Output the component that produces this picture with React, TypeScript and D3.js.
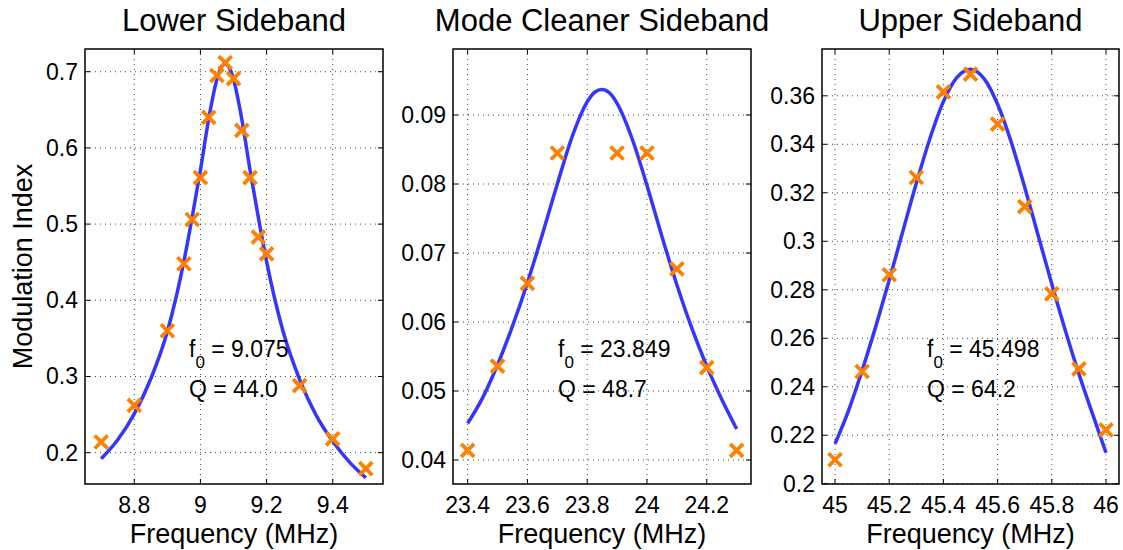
import React from 'react';
import * as d3 from 'd3';

// ---------- Data ----------
const lowerTitle = 'Lower Sideband';
const lowerFreq = [8.7, 8.8, 8.9, 8.95, 8.975, 9.0, 9.025, 9.05, 9.075, 9.1, 9.125, 9.15, 9.175, 9.2, 9.3, 9.4, 9.5];
const lowerMeas = [0.214, 0.262, 0.36, 0.448, 0.506, 0.561, 0.64, 0.695, 0.712, 0.691, 0.623, 0.561, 0.483, 0.461, 0.288, 0.218, 0.179];
const lowerFitFreq = [8.7, 8.75, 8.8, 8.85, 8.9, 8.95, 8.975, 9.0, 9.025, 9.05, 9.0625, 9.075, 9.0875, 9.1, 9.125, 9.15, 9.175, 9.2, 9.25, 9.3, 9.35, 9.4, 9.45, 9.5];
const lowerFitVal = [0.192, 0.217, 0.251, 0.297, 0.359, 0.451, 0.509, 0.571, 0.638, 0.69, 0.705, 0.71, 0.705, 0.69, 0.638, 0.571, 0.509, 0.451, 0.359, 0.296, 0.249, 0.215, 0.188, 0.167];
const lowerXTicks = [8.8, 9, 9.2, 9.4];
const lowerXTickLabels = ['8.8', '9', '9.2', '9.4'];
const lowerYTicks = [0.2, 0.3, 0.4, 0.5, 0.6, 0.7];
const lowerYTickLabels = ['0.2', '0.3', '0.4', '0.5', '0.6', '0.7'];
const lowerF0 = '9.075';
const lowerQ = '44.0';

const modeTitle = 'Mode Cleaner Sideband';
const modeFreq = [23.4, 23.5, 23.6, 23.7, 23.9, 24.0, 24.1, 24.2, 24.3];
const modeMeas = [0.0414, 0.0536, 0.0656, 0.0845, 0.0845, 0.0845, 0.0677, 0.0534, 0.0414];
const modeFitFreq = [23.4, 23.45, 23.5, 23.55, 23.6, 23.65, 23.7, 23.75, 23.8, 23.825, 23.85, 23.875, 23.9, 23.95, 24.0, 24.05, 24.1, 24.15, 24.2, 24.25, 24.3];
const modeFitVal = [0.0453, 0.049, 0.0538, 0.0594, 0.0657, 0.0727, 0.08, 0.0869, 0.0919, 0.0933, 0.0937, 0.0932, 0.0917, 0.0866, 0.0798, 0.0724, 0.0654, 0.0591, 0.0536, 0.0488, 0.0445];
const modeXTicks = [23.4, 23.6, 23.8, 24, 24.2];
const modeXTickLabels = ['23.4', '23.6', '23.8', '24', '24.2'];
const modeYTicks = [0.04, 0.05, 0.06, 0.07, 0.08, 0.09];
const modeYTickLabels = ['0.04', '0.05', '0.06', '0.07', '0.08', '0.09'];
const modeF0 = '23.849';
const modeQ = '48.7';

const upperTitle = 'Upper Sideband';
const upperFreq = [45.0, 45.1, 45.2, 45.3, 45.4, 45.5, 45.6, 45.7, 45.8, 45.9, 46.0];
const upperMeas = [0.2099, 0.2463, 0.2862, 0.3263, 0.3616, 0.3689, 0.3483, 0.3143, 0.2783, 0.2474, 0.2222];
const upperFitFreq = [45.0, 45.05, 45.1, 45.15, 45.2, 45.25, 45.3, 45.35, 45.4, 45.45, 45.5, 45.55, 45.6, 45.65, 45.7, 45.75, 45.8, 45.85, 45.9, 45.95, 46.0];
const upperFitVal = [0.2165, 0.2302, 0.2467, 0.2647, 0.2839, 0.304, 0.3239, 0.3423, 0.3576, 0.3676, 0.371, 0.3671, 0.3565, 0.341, 0.3223, 0.3023, 0.2824, 0.2632, 0.2453, 0.2289, 0.2128];
const upperXTicks = [45, 45.2, 45.4, 45.6, 45.8, 46];
const upperXTickLabels = ['45', '45.2', '45.4', '45.6', '45.8', '46'];
const upperYTicks = [0.2, 0.22, 0.24, 0.26, 0.28, 0.3, 0.32, 0.34, 0.36];
const upperYTickLabels = ['0.2', '0.22', '0.24', '0.26', '0.28', '0.3', '0.32', '0.34', '0.36'];
const upperF0 = '45.498';
const upperQ = '64.2';

const xLabel = 'Frequency (MHz)';
const yLabel = 'Modulation Index';

// ---------- Layout ----------
const W = 1123;
const H = 550;
const TOP = 49;
const BOTTOM = 484;
const FONT = '"Liberation Sans", Arial, Helvetica, sans-serif';
const BLUE = '#3535fb';
const ORANGE = '#ff8000';

type Panel = {
  title: string;
  left: number;
  right: number;
  xDomain: [number, number];
  yDomain: [number, number];
  freq: number[];
  meas: number[];
  fitFreq: number[];
  fitVal: number[];
  xTicks: number[];
  xTickLabels: string[];
  yTicks: number[];
  yTickLabels: string[];
  f0: string;
  q: string;
  annX: number;
};

const panels: Panel[] = [
  {
    title: lowerTitle, left: 85, right: 383, xDomain: [8.651, 9.552], yDomain: [0.1589, 0.7298],
    freq: lowerFreq, meas: lowerMeas, fitFreq: lowerFitFreq, fitVal: lowerFitVal,
    xTicks: lowerXTicks, xTickLabels: lowerXTickLabels, yTicks: lowerYTicks, yTickLabels: lowerYTickLabels,
    f0: lowerF0, q: lowerQ, annX: 189,
  },
  {
    title: modeTitle, left: 453, right: 751, xDomain: [23.351, 24.348], yDomain: [0.03652, 0.09957],
    freq: modeFreq, meas: modeMeas, fitFreq: modeFitFreq, fitVal: modeFitVal,
    xTicks: modeXTicks, xTickLabels: modeXTickLabels, yTicks: modeYTicks, yTickLabels: modeYTickLabels,
    f0: modeF0, q: modeQ, annX: 558,
  },
  {
    title: upperTitle, left: 822, right: 1119, xDomain: [44.952, 46.048], yDomain: [0.1999, 0.3793],
    freq: upperFreq, meas: upperMeas, fitFreq: upperFitFreq, fitVal: upperFitVal,
    xTicks: upperXTicks, xTickLabels: upperXTickLabels, yTicks: upperYTicks, yTickLabels: upperYTickLabels,
    f0: upperF0, q: upperQ, annX: 927,
  },
];

function PanelView({ p, showYLabel }: { p: Panel; showYLabel: boolean }) {
  const x = d3.scaleLinear().domain(p.xDomain).range([p.left, p.right]);
  const y = d3.scaleLinear().domain(p.yDomain).range([BOTTOM, TOP]);
  const line = d3
    .line<number>()
    .x((_, i) => x(p.fitFreq[i]))
    .y((d) => y(d))
    .curve(d3.curveMonotoneX);
  const cx = (p.left + p.right) / 2;
  const tick = 5;
  const m = 6.5;
  return (
    <g>
      <text x={cx} y={31} textAnchor="middle" fontSize={31} fontFamily={FONT} fill="#000">
        {p.title}
      </text>
      {/* grid */}
      {p.xTicks.map((t, i) => (
        <line key={'gx' + i} x1={x(t)} x2={x(t)} y1={TOP} y2={BOTTOM} stroke="#444" strokeWidth={1} strokeDasharray="1,4" />
      ))}
      {p.yTicks.map((t, i) => (
        <line key={'gy' + i} x1={p.left} x2={p.right} y1={y(t)} y2={y(t)} stroke="#444" strokeWidth={1} strokeDasharray="1,4" />
      ))}
      {/* tick marks */}
      {p.xTicks.map((t, i) => (
        <g key={'tx' + i}>
          <line x1={x(t)} x2={x(t)} y1={BOTTOM} y2={BOTTOM - tick} stroke="#000" strokeWidth={1} />
          <line x1={x(t)} x2={x(t)} y1={TOP} y2={TOP + tick} stroke="#000" strokeWidth={1} />
          <text x={x(t)} y={BOTTOM + 29} textAnchor="middle" fontSize={23} fontFamily={FONT} fill="#000">
            {p.xTickLabels[i]}
          </text>
        </g>
      ))}
      {p.yTicks.map((t, i) => (
        <g key={'ty' + i}>
          <line x1={p.left} x2={p.left + tick} y1={y(t)} y2={y(t)} stroke="#000" strokeWidth={1} />
          <line x1={p.right} x2={p.right - tick} y1={y(t)} y2={y(t)} stroke="#000" strokeWidth={1} />
          <text x={p.left - 7} y={y(t) + 8} textAnchor="end" fontSize={23} fontFamily={FONT} fill="#000">
            {p.yTickLabels[i]}
          </text>
        </g>
      ))}
      {/* fit curve */}
      <path d={line(p.fitVal) || ''} fill="none" stroke={BLUE} strokeWidth={3.5} />
      {/* measured points */}
      {p.freq.map((f, i) => (
        <path
          key={'m' + i}
          transform={`translate(${x(f)},${y(p.meas[i])})`}
          d={`M${-m},${-m}L${m},${m}M${-m},${m}L${m},${-m}`}
          stroke={ORANGE}
          strokeWidth={3.8}
          fill="none"
        />
      ))}
      {/* annotations */}
      <text x={p.annX} y={357} fontSize={23} fontFamily={FONT} fill="#000">
        f<tspan fontSize={17} dy={11}>0</tspan>
        <tspan dy={-11}> = {p.f0}</tspan>
      </text>
      <text x={p.annX} y={397} fontSize={23} fontFamily={FONT} fill="#000">
        Q = {p.q}
      </text>
      {/* box */}
      <rect x={p.left} y={TOP} width={p.right - p.left} height={BOTTOM - TOP} fill="none" stroke="#000" strokeWidth={1.5} />
      <text x={cx} y={543} textAnchor="middle" fontSize={27} fontFamily={FONT} fill="#000">
        {xLabel}
      </text>
      {showYLabel && (
        <text
          transform={`translate(32,${(TOP + BOTTOM) / 2}) rotate(-90)`}
          textAnchor="middle"
          fontSize={27}
          fontFamily={FONT}
          fill="#000"
        >
          {yLabel}
        </text>
      )}
    </g>
  );
}

export default function App() {
  return (
    <svg
      width={W}
      height={H}
      viewBox={`0 0 ${W} ${H}`}
      style={{ position: 'absolute', left: 0, top: 0, background: '#fff' }}
    >
      <rect x={0} y={0} width={W} height={H} fill="#fff" />
      {panels.map((p, i) => (
        <PanelView key={i} p={p} showYLabel={i === 0} />
      ))}
    </svg>
  );
}
